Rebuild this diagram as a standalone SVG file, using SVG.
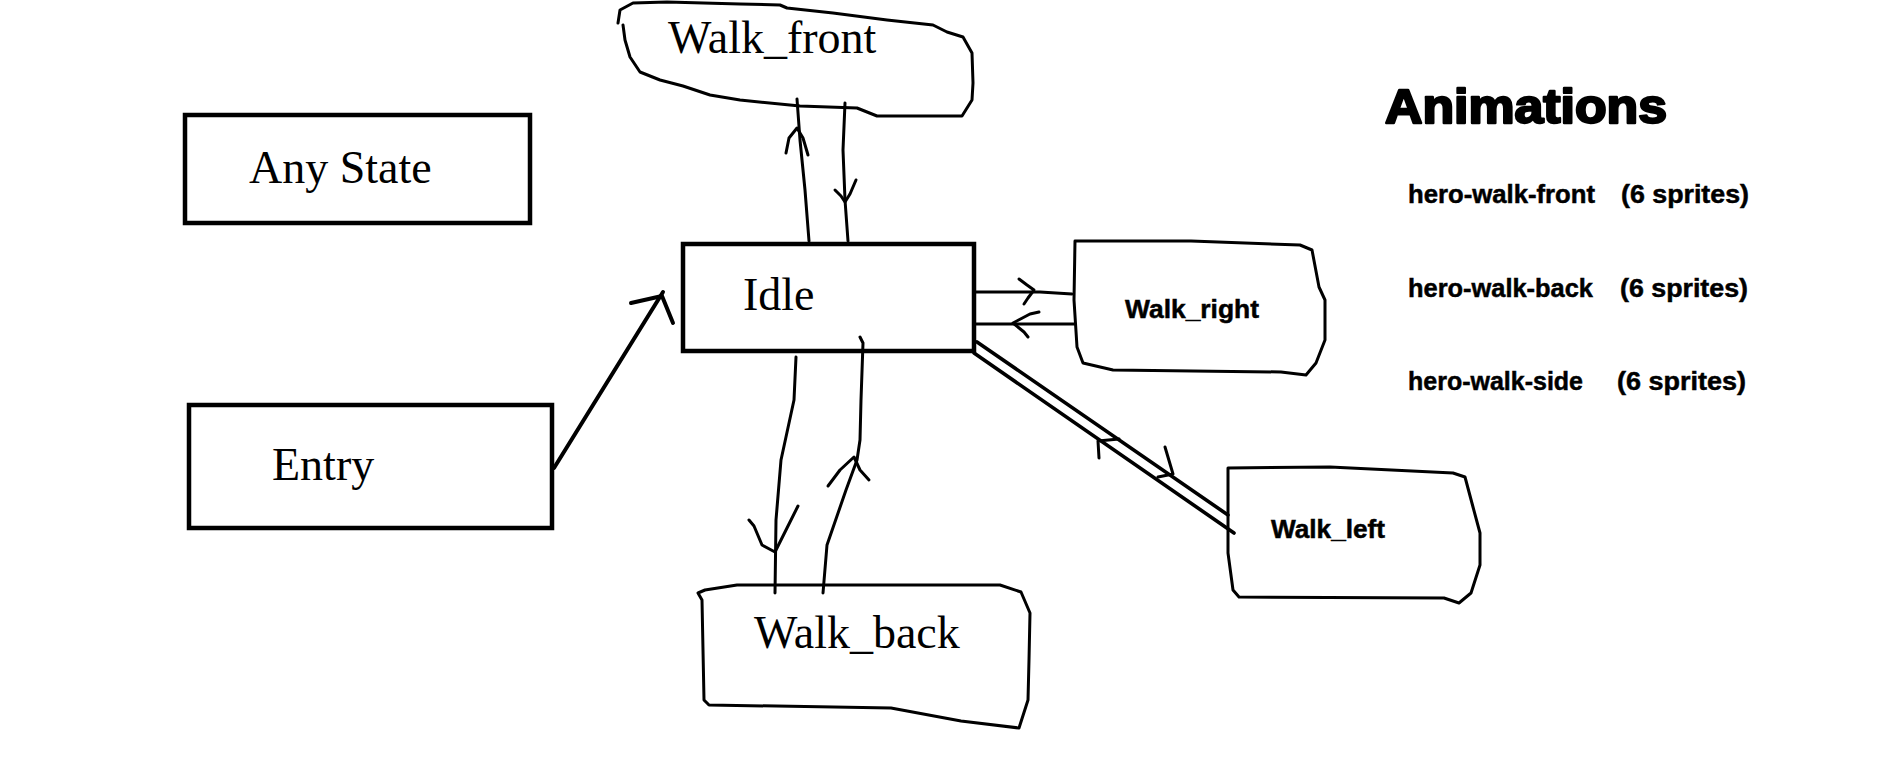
<svg xmlns="http://www.w3.org/2000/svg" width="1895" height="781" viewBox="0 0 1895 781">
<style>
.box{fill:none;stroke:#000;stroke-width:4.5}
.hand{fill:none;stroke:#000;stroke-width:3;stroke-linecap:round;stroke-linejoin:round}
.dbl{fill:none;stroke:#000;stroke-width:3.6;stroke-linecap:round}
.thick{fill:none;stroke:#000;stroke-width:4;stroke-linecap:round;stroke-linejoin:round}
.serif{font-family:"Liberation Serif","Times New Roman",serif;font-size:46px;fill:#000}
.sansb{font-family:"Liberation Sans",Arial,sans-serif;font-weight:bold;font-size:26px;fill:#000;stroke:#000;stroke-width:0.5}
.title{font-family:"Liberation Sans",Arial,sans-serif;font-weight:bold;font-size:48px;fill:#000;stroke:#000;stroke-width:2.4;stroke-linejoin:round}
</style>
<rect width="1895" height="781" fill="#fff"/>
<g id="connectors">
  <!-- Entry -> Idle -->
  <path class="thick" d="M554,468 L663,292"/>
  <path class="thick" d="M631,303 L662,296 L673,323"/>
  <!-- Idle <-> Walk_front -->
  <path class="hand" d="M797,99 L800,140 L805,190 L809,241"/>
  <path class="hand" d="M786,153 L789,138 L797,128 L803,138 L808,155"/>
  <path class="hand" d="M845,103 L843,150 L845,200 L848,241"/>
  <path class="hand" d="M835,190 L841,196 L845,202 L850,194 L853,187 L856,180"/>
  <!-- Idle <-> Walk_back -->
  <path class="hand" d="M796,357 L794,400 L781,460 L776,520 L775,593"/>
  <path class="hand" d="M749,520 L754,526 L762,545 L775,552 L787,528 L798,506"/>
  <path class="hand" d="M860,337 L863,343 L861,400 L860,440 L857,460 L846,490 L827,545 L823,593"/>
  <path class="hand" d="M828,486 L840,470 L854,457 L860,470 L869,480"/>
  <!-- Idle <-> Walk_right -->
  <path class="hand" d="M976,292 L1040,292 L1072,294"/>
  <path class="hand" d="M1019,279 L1027,285 L1034,290 L1028,298 L1024,304"/>
  <path class="hand" d="M976,324 L1074,324"/>
  <path class="hand" d="M1039,312 L1030,314 L1013,323 L1024,332 L1028,337"/>
  <!-- Idle <-> Walk_left -->
  <path class="dbl" d="M977,342 L1228,515"/>
  <path class="dbl" d="M974,353 L1234,533"/>
  <path class="hand" d="M1099,458 L1098,441 L1119,439"/>
  <path class="hand" d="M1165,447 L1173,474 L1158,477"/>
</g>
<g id="any-state">
  <rect class="box" x="185" y="115" width="345" height="108"/>
  <text class="serif" x="249" y="183">Any State</text>
</g>
<g id="entry">
  <rect class="box" x="189" y="405" width="363" height="123"/>
  <text class="serif" x="272" y="480">Entry</text>
</g>
<g id="idle">
  <rect class="box" x="683" y="244" width="291" height="107"/>
  <text class="serif" x="743" y="310">Idle</text>
</g>
<g id="walk-front">
  <path class="hand" d="M618,23 L620,10 L633,3 L667,2 L740,4 L780,5 L787,8 L833,13 L887,20 L933,25 L947,32 L963,37 L972,53 L973,83 L972,100 L962,116 L877,116 L857,108 L800,106 L740,100 L710,95 L683,86 L660,80 L640,72 L630,57 L625,40 L623,25"/>
  <text class="serif" x="668" y="53">Walk_front</text>
</g>
<g id="walk-back">
  <path class="hand" d="M737,585 L1000,585 L1021,592 L1030,613 L1029,660 L1028,700 L1019,728 L961,721 L891,708 L709,705 L704,700 L703,650 L702,600 L698,593 L705,590 Z"/>
  <text class="serif" x="754" y="648">Walk_back</text>
</g>
<g id="walk-right">
  <path class="hand" d="M1075,241 L1191,241 L1300,245 L1312,250 L1319,287 L1325,300 L1325,340 L1316,363 L1306,375 L1281,372 L1113,370 L1083,363 L1077,347 L1074,300 Z"/>
  <text class="sansb" x="1125" y="318" textLength="134" lengthAdjust="spacingAndGlyphs">Walk_right</text>
</g>
<g id="walk-left">
  <path class="hand" d="M1228,468 L1330,467 L1453,473 L1465,477 L1473,507 L1480,533 L1480,565 L1471,593 L1459,603 L1444,598 L1239,597 L1233,590 L1228,553 Z"/>
  <text class="sansb" x="1271" y="538" textLength="114" lengthAdjust="spacingAndGlyphs">Walk_left</text>
</g>
<g id="animations">
  <text class="title" x="1385" y="123" textLength="282" lengthAdjust="spacingAndGlyphs">Animations</text>
  <text class="sansb" x="1408" y="203" textLength="187" lengthAdjust="spacingAndGlyphs">hero-walk-front</text>
  <text class="sansb" x="1621" y="203" textLength="128" lengthAdjust="spacingAndGlyphs">(6 sprites)</text>
  <text class="sansb" x="1408" y="297" textLength="185" lengthAdjust="spacingAndGlyphs">hero-walk-back</text>
  <text class="sansb" x="1620" y="297" textLength="128" lengthAdjust="spacingAndGlyphs">(6 sprites)</text>
  <text class="sansb" x="1408" y="390" textLength="175" lengthAdjust="spacingAndGlyphs">hero-walk-side</text>
  <text class="sansb" x="1617" y="390" textLength="129" lengthAdjust="spacingAndGlyphs">(6 sprites)</text>
</g>
</svg>
